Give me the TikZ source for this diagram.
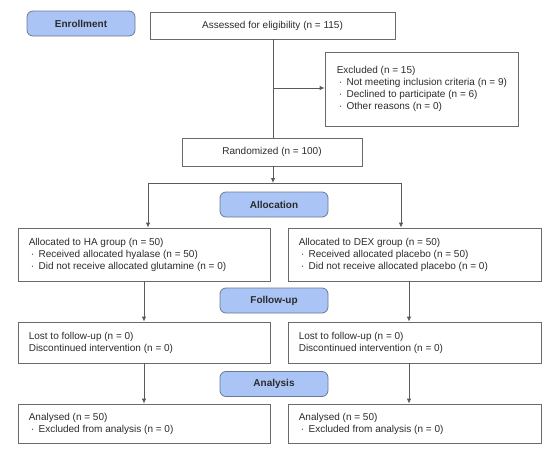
\documentclass[tikz,border=0pt]{standalone}
\usepackage{fontspec}
\setmainfont{Liberation Sans}
\usetikzlibrary{arrows.meta}
\definecolor{labfill}{HTML}{A9C4F5}
\definecolor{labdraw}{HTML}{6B7A93}
\definecolor{boxdraw}{HTML}{6A6A6A}
\definecolor{txt}{HTML}{2B2B2B}
\newcommand{\bul}{\hspace{2pt}·\hspace{4.5pt}}
\tikzset{
  stage/.style={draw=labdraw, fill=labfill, rounded corners=6pt, line width=0.8pt,
    minimum width=108pt, minimum height=25pt, inner sep=0pt, font=\bfseries\fontsize{10pt}{12pt}\selectfont, text=txt},
  cbox/.style={draw=boxdraw, line width=0.8pt, inner sep=0pt, font=\fontsize{10pt}{12pt}\selectfont, text=txt},
  lbox/.style={draw=boxdraw, line width=0.8pt, inner sep=0pt},
  ltxt/.style={anchor=west, inner sep=0pt, align=left, font=\fontsize{10pt}{12pt}\selectfont, text=txt},
  conn/.style={draw=boxdraw!85!black, line width=0.8pt},
  arr/.style={conn, -{Latex[length=5pt,width=4.5pt]}}
}
\begin{document}
\begin{tikzpicture}[x=1pt,y=-1pt]
\useasboundingbox (0,0) rectangle (552,455);
\node[stage] (enroll) at (81,23.5) {Enrollment};
\node[cbox, minimum width=245pt, minimum height=27pt] (assessed) at (272.5,25.5) {Assessed for eligibility (n = 115)};
\node[lbox, minimum width=193pt, minimum height=74pt] (excluded) at (421.5,89) {};
\node[ltxt] (excludedt) at ([xshift=12pt]excluded.west)
  {Excluded (n = 15)\\\bul Not meeting inclusion criteria (n = 9)\\\bul Declined to participate (n = 6)\\\bul Other reasons (n = 0)};
\node[cbox, minimum width=180pt, minimum height=28pt] (random) at (272,152) {Randomized (n = 100)};
\node[stage] (alloc) at (274,204.5) {Allocation};
\node[lbox, minimum width=252pt, minimum height=53pt] (ha) at (144,254.5) {};
\node[ltxt] (hat) at ([xshift=11pt]ha.west)
  {Allocated to HA group (n = 50)\\\bul Received allocated hyalase (n = 50)\\\bul Did not receive allocated glutamine (n = 0)};
\node[lbox, minimum width=253pt, minimum height=53pt] (dex) at (414.5,254.5) {};
\node[ltxt] (dext) at ([xshift=11pt]dex.west)
  {Allocated to DEX group (n = 50)\\\bul Received allocated placebo (n = 50)\\\bul Did not receive allocated placebo (n = 0)};
\node[stage] (follow) at (274,300.5) {Follow-up};
\node[lbox, minimum width=252pt, minimum height=41pt] (losta) at (144,342.5) {};
\node[ltxt] (lostat) at ([xshift=11pt]losta.west)
  {Lost to follow-up (n = 0)\\Discontinued intervention (n = 0)};
\node[lbox, minimum width=253pt, minimum height=41pt] (lostb) at (414.5,342.5) {};
\node[ltxt] (lostbt) at ([xshift=11pt]lostb.west)
  {Lost to follow-up (n = 0)\\Discontinued intervention (n = 0)};
\node[stage] (analysis) at (274,384) {Analysis};
\node[lbox, minimum width=252pt, minimum height=39pt] (ana) at (144,423.5) {};
\node[ltxt] (anat) at ([xshift=11pt]ana.west)
  {Analysed (n = 50)\\\bul Excluded from analysis (n = 0)};
\node[lbox, minimum width=253pt, minimum height=39pt] (anb) at (414.5,423.5) {};
\node[ltxt] (anbt) at ([xshift=11pt]anb.west)
  {Analysed (n = 50)\\\bul Excluded from analysis (n = 0)};
% connectors
\coordinate (j) at (273,88);
\coordinate (split) at (273,183);
\draw[conn] ([xshift=0.5pt]assessed.south) -- ([xshift=1pt]random.north);
\draw[arr] (j) -- (excluded.west |- j);
\draw[arr] ([xshift=1pt]random.south) -- (split);
\draw[arr] (split) -| ([xshift=4pt]ha.north);
\draw[arr] (split) -| ([xshift=-13.5pt]dex.north);
\draw[arr] (ha.south) -- (losta.north);
\draw[arr] ([xshift=-5.5pt]dex.south) -- ([xshift=-5.5pt]lostb.north);
\draw[arr] (losta.south) -- (ana.north);
\draw[arr] ([xshift=-5.5pt]lostb.south) -- ([xshift=-5.5pt]anb.north);
\end{tikzpicture}
\end{document}
